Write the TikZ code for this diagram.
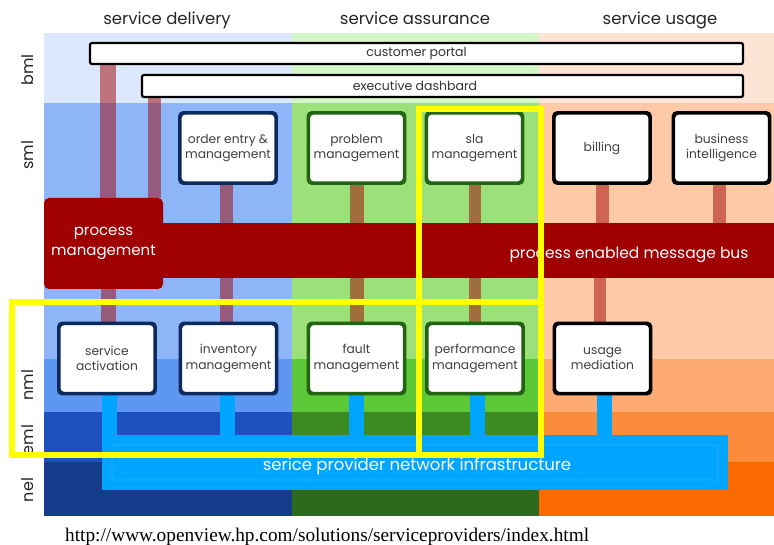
\documentclass[tikz,border=0pt]{standalone}
\usepackage{fontspec}
\setmainfont{Poppins}
\newfontfamily\urlfont{Liberation Serif}
\usetikzlibrary{calc}

% column / layer colours
\definecolor{dBml}{HTML}{DCE8FB}
\definecolor{dSml}{HTML}{8DB5F7}
\definecolor{dNml}{HTML}{5E97F2}
\definecolor{dEml}{HTML}{1F50BF}
\definecolor{dNel}{HTML}{153C8A}
\definecolor{aBml}{HTML}{D5F6C9}
\definecolor{aSml}{HTML}{9CE07A}
\definecolor{aNml}{HTML}{5CC836}
\definecolor{aEml}{HTML}{3C8A22}
\definecolor{aNel}{HTML}{2E6A1B}
\definecolor{uBml}{HTML}{FDE4D4}
\definecolor{uSml}{HTML}{FDC9A7}
\definecolor{uNml}{HTML}{FCAA72}
\definecolor{uEml}{HTML}{FB8C3B}
\definecolor{uNel}{HTML}{FA6A00}
\definecolor{pmred}{HTML}{A00000}
\definecolor{netcyan}{HTML}{00A5FF}
\definecolor{navyedge}{HTML}{0D2A5E}
\definecolor{greenedge}{HTML}{226414}
\definecolor{hilite}{HTML}{FFFF00}

\tikzset{
  hdr/.style={anchor=base, font=\fontsize{16.5}{19}\selectfont, text=black!85},
  rowlbl/.style={rotate=90, font=\fontsize{16}{19}\selectfont, text=black!85},
  bar/.style={draw=black, line width=2.2pt, fill=white, rounded corners=2pt,
    inner sep=0pt, font=\fontsize{12.5}{14}\selectfont, text=black!80},
  fnbox/.style={draw=#1, line width=2.4pt, fill=white, rounded corners=4pt,
    minimum width=95pt, minimum height=69pt, inner sep=1pt, align=center,
    font=\fontsize{12.3}{15.5}\selectfont, text=black!75},
  pinklink/.style={draw=pmred, draw opacity=0.5, line width=#1},
  cyanlink/.style={draw=netcyan, line width=15pt},
  yellowframe/.style={draw=hilite, line width=6pt},
}

\begin{document}
\begin{tikzpicture}[x=1pt,y=-1pt]
\useasboundingbox (0,0) rectangle (774,545);
\fill[white] (0,0) rectangle (774,545);

% ---- layer bands per column ----
\fill[dBml] (44,33) rectangle (292,103);
\fill[dSml] (44,103) rectangle (292,359);
\fill[dNml] (44,359) rectangle (292,412);
\fill[dEml] (44,412) rectangle (292,462);
\fill[dNel] (44,462) rectangle (292,516);
\fill[aBml] (292,33) rectangle (539,103);
\fill[aSml] (292,103) rectangle (539,359);
\fill[aNml] (292,359) rectangle (539,412);
\fill[aEml] (292,412) rectangle (539,462);
\fill[aNel] (292,462) rectangle (539,516);
\fill[uBml] (539,33) rectangle (774,103);
\fill[uSml] (539,103) rectangle (774,359);
\fill[uNml] (539,359) rectangle (774,412);
\fill[uEml] (539,412) rectangle (774,462);
\fill[uNel] (539,462) rectangle (774,516);

% ---- column headers ----
\node[hdr] (hdel) at (167,24.5) {service delivery};
\node[hdr] (hass) at (415,24.5) {service assurance};
\node[hdr] (huse) at (660,24.5) {service usage};

% ---- layer labels ----
\node[rowlbl] (lbml) at (28,70) {bml};
\node[rowlbl] (lsml) at (28,155) {sml};
\node[rowlbl] (lnml) at (28,385) {nml};
\node[rowlbl] (leml) at (28,440) {eml};
\node[rowlbl] (lnel) at (28,490) {nel};

% ---- business layer bars ----
\node[bar, minimum width=653pt, minimum height=21pt] (cp) at (416.5,53.5) {customer portal};
\node[bar, minimum width=601pt, minimum height=22pt] (ed) at (442.5,86) {};
\node[font=\fontsize{12.5}{14}\selectfont, text=black!80] (edtext) at (415,86) {executive dashbard};

% ---- message bus and process management ----
\node[fill=pmred, minimum width=624pt, minimum height=55pt, inner sep=0pt] (bus) at (462,250.5) {};
\node[fill=pmred, rounded corners=5pt, minimum width=119pt, minimum height=91pt,
      inner sep=0pt, align=center, text=white, font=\fontsize{15}{20}\selectfont] (pm) at (103.5,243.5) {process\\management};
\node[text=white, font=\fontsize{15.5}{18}\selectfont] (bustext) at (629,255) {process enabled message bus};

% ---- service layer boxes ----
\node[fnbox=navyedge] (oe) at (228,148) {order entry \&\\management};
\node[fnbox=greenedge] (pr) at (356.5,148) {problem\\management};
\node[fnbox=greenedge] (sla) at (474.5,148) {sla\\management};
\node[fnbox=black] (bill) at (602,148) {billing};
\node[fnbox=black] (bi) at (721.5,148) {business\\intelligence};

% ---- network layer boxes ----
\node[fnbox=navyedge] (sa) at (107,358.5) {service\\activation};
\node[fnbox=navyedge] (inv) at (228.5,358.5) {inventory\\management};
\node[fnbox=greenedge] (fm) at (356.5,358.5) {fault\\management};
\node[fnbox=greenedge] (perf) at (475,358.5) {performance\\management};
\node[fnbox=black] (um) at (602.5,358.5) {usage\\mediation};

% ---- network infrastructure ----
\node[fill=netcyan, minimum width=626pt, minimum height=55pt, inner sep=0pt] (net) at (415,462.5) {};
\draw[white, opacity=0.06, line width=1.5pt]
  ([xshift=10pt,yshift=10pt]net.south west) rectangle ([xshift=-10pt,yshift=-10pt]net.north east);
\node[text=white, font=\fontsize{16.5}{19}\selectfont] (nettext) at (417,466) {serice provider network infrastructure};

% ---- links from the business bars ----
\coordinate (cpl) at ([xshift=19pt]cp.south west);
\coordinate (edl) at ([xshift=13.5pt]ed.south west);
\draw[pinklink=16pt] (cpl) -- (cpl |- pm.north);
\draw[pinklink=13pt] (edl) -- (edl |- pm.north);

% ---- links from service boxes to the bus ----
\draw[pinklink=13pt] ([xshift=-2pt]oe.south) -- ([xshift=-2pt]oe.south |- bus.north);
\draw[pinklink=14pt] (pr.south) -- (pr.south |- bus.north);
\draw[pinklink=12pt] (sla.south) -- (sla.south |- bus.north);
\draw[pinklink=13pt] (bill.south) -- (bill.south |- bus.north);
\draw[pinklink=13pt] ([xshift=-2pt]bi.south) -- ([xshift=-2pt]bi.south |- bus.north);

% ---- links from the bus to network boxes ----
\draw[pinklink=15pt] ([xshift=1.5pt]sa.north |- pm.south) -- ([xshift=1.5pt]sa.north);
\draw[pinklink=13pt] ([xshift=-2pt]inv.north |- bus.south) -- ([xshift=-2pt]inv.north);
\draw[pinklink=14pt] (fm.north |- bus.south) -- (fm.north);
\draw[pinklink=12pt] (perf.north |- bus.south) -- (perf.north);
\draw[pinklink=12pt] ([xshift=-2.5pt]um.north |- bus.south) -- ([xshift=-2.5pt]um.north);

% ---- links from network boxes to the infrastructure ----
\draw[cyanlink] ([xshift=2.5pt]sa.south) -- ([xshift=2.5pt]sa.south |- net.north);
\draw[cyanlink] ([xshift=-1.5pt]inv.south) -- ([xshift=-1.5pt]inv.south |- net.north);
\draw[cyanlink] (fm.south) -- (fm.south |- net.north);
\draw[cyanlink] ([xshift=2pt]perf.south) -- ([xshift=2pt]perf.south |- net.north);
\draw[cyanlink] ([xshift=2pt]um.south) -- ([xshift=2pt]um.south |- net.north);

% redraw box outlines on top of their links
\foreach \b/\c in {oe/navyedge,pr/greenedge,sla/greenedge,bill/black,bi/black,
                   sa/navyedge,inv/navyedge,fm/greenedge,perf/greenedge,um/black}{
  \draw[draw=\c, line width=2.4pt, rounded corners=4pt] (\b.south west) rectangle (\b.north east);
}

% ---- highlight frames ----
\draw[yellowframe] (419,109) rectangle (541,455);
\draw[yellowframe] (12,302) rectangle (541,455);

% ---- source line ----
\node[anchor=west, inner sep=0pt, font=\urlfont\fontsize{19.3}{22}\selectfont] (src) at (65,537)
  {http://www.openview.hp.com/solutions/serviceproviders/index.html};
\end{tikzpicture}
\end{document}
